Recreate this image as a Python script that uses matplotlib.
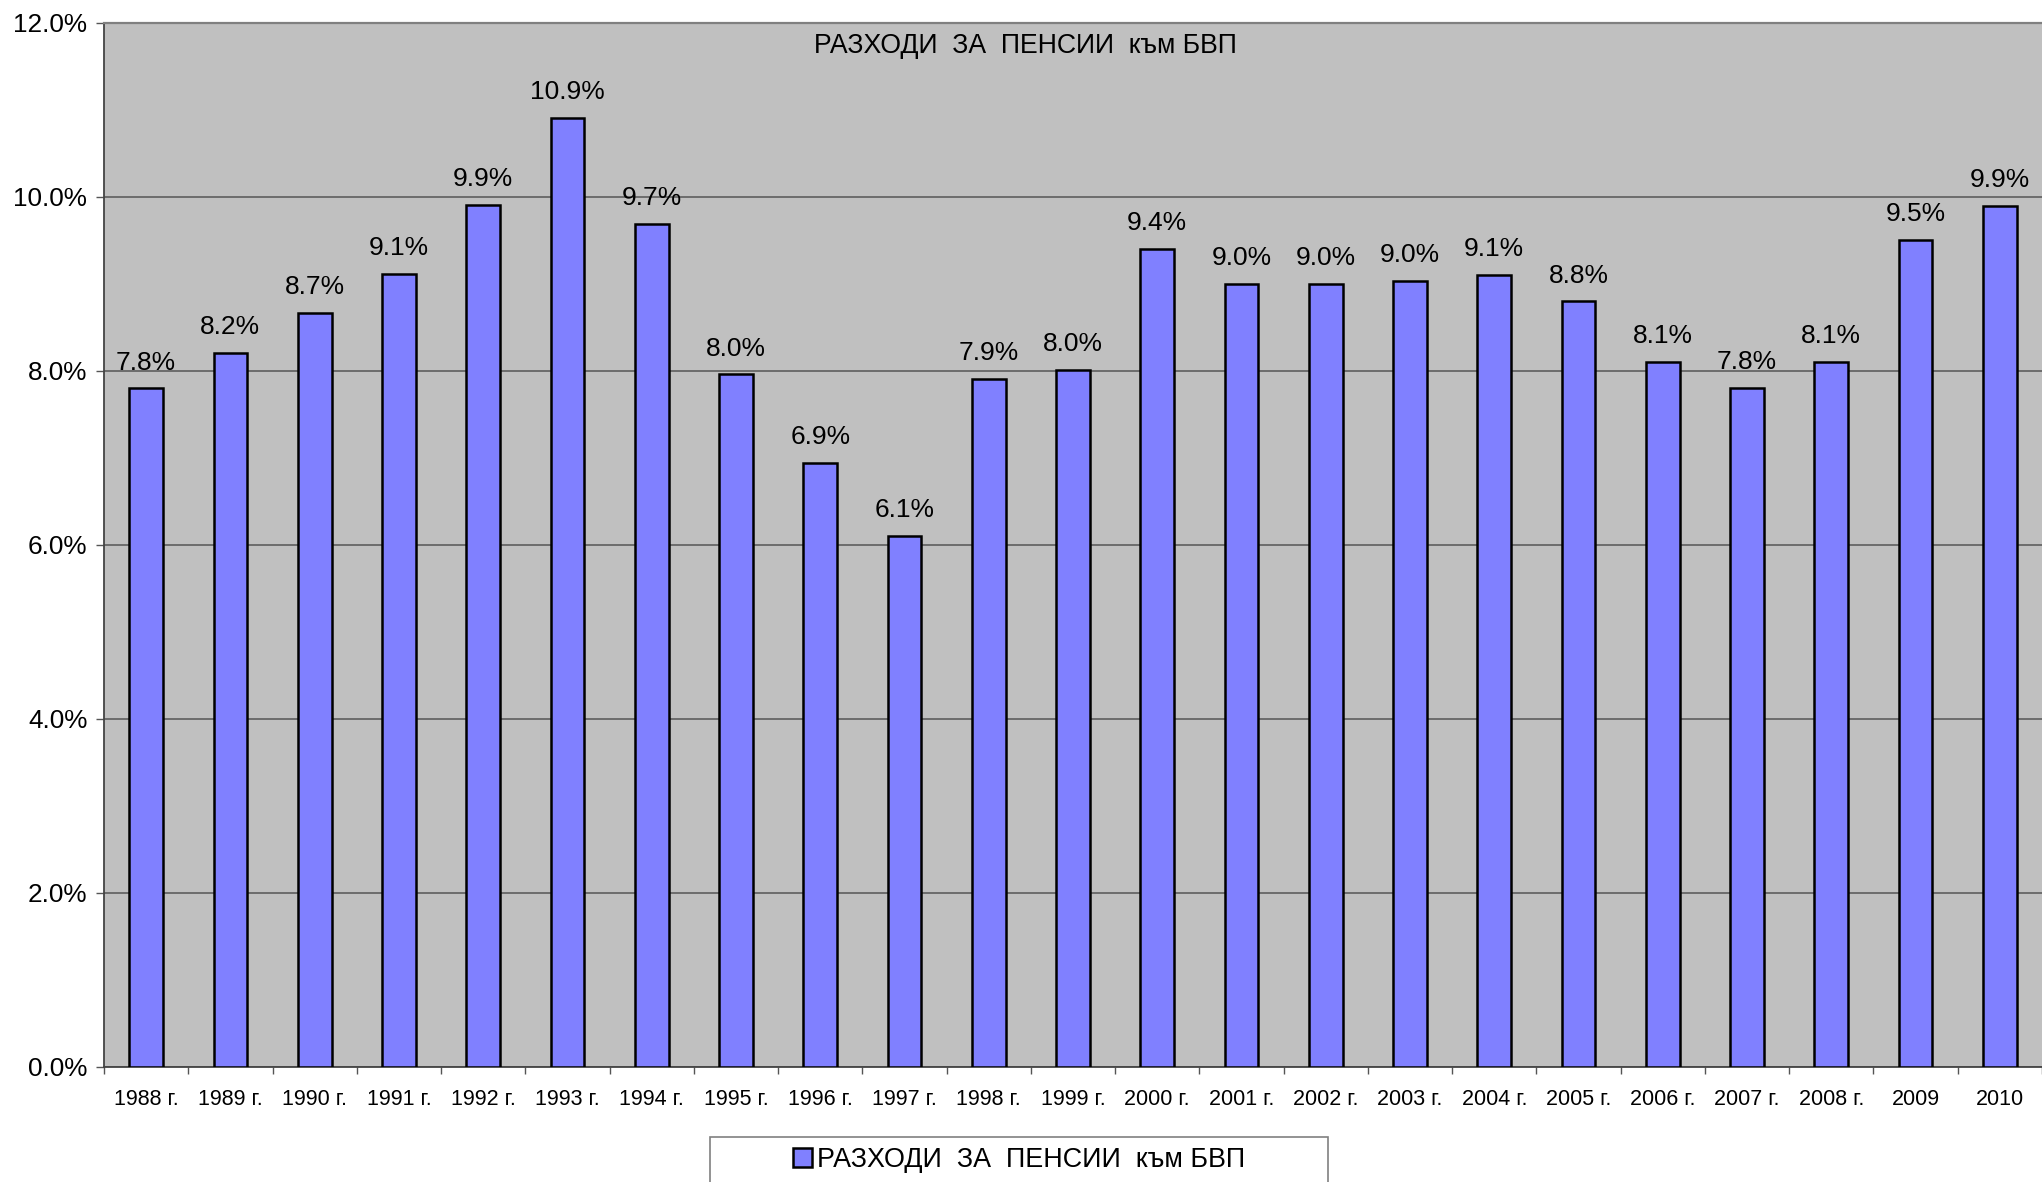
import matplotlib
matplotlib.use("Agg")
import matplotlib.pyplot as plt
from matplotlib.patches import Rectangle
import numpy as np

plt.rcParams['font.family'] = ['Liberation Sans', 'DejaVu Sans']

categories = ["1988 г.", "1989 г.", "1990 г.", "1991 г.", "1992 г.", "1993 г.", "1994 г.",
              "1995 г.", "1996 г.", "1997 г.", "1998 г.", "1999 г.", "2000 г.", "2001 г.",
              "2002 г.", "2003 г.", "2004 г.", "2005 г.", "2006 г.", "2007 г.", "2008 г.",
              "2009", "2010"]
values = [7.80, 8.21, 8.67, 9.12, 9.91, 10.91, 9.69,
          7.96, 6.94, 6.10, 7.91, 8.01, 9.40, 9.00,
          9.00, 9.04, 9.10, 8.80, 8.10, 7.81, 8.10,
          9.51, 9.90]
y_ticks = [0, 2, 4, 6, 8, 10, 12]
title = "РАЗХОДИ  ЗА  ПЕНСИИ  към БВП"

W, H = 2042, 1182
fig = plt.figure(figsize=(W / 100, H / 100), dpi=100)
ax = fig.add_axes([104 / W, 1 - 1067 / H, (W - 104) / W, (1067 - 23) / H])
ax.set_facecolor('#C0C0C0')

x = np.arange(len(categories))
ax.set_axisbelow(True)
ax.yaxis.grid(True, color='#555555', linewidth=1.1)
bars = ax.bar(x, values, width=0.4, color='#8080FF', edgecolor='black', linewidth=1.8,
              label=title, zorder=3)

for xi, v in zip(x, values):
    ax.annotate(f"{v:.1f}%", (xi, v), xytext=(0, 10), textcoords='offset points',
                ha='center', va='bottom', fontsize=19, color='black', zorder=4)

ax.set_xlim(-0.5, len(categories) - 0.5)
ax.set_ylim(0, 12)
ax.set_yticks(y_ticks)
ax.set_yticklabels([f"{t:.1f}%" for t in y_ticks], fontsize=18.8)
ax.tick_params(axis='y', length=6, width=1, color='#555555', pad=6)

ax.set_xticks(x)
ax.set_xticklabels(categories, fontsize=15.5)
ax.set_xticks(np.arange(len(categories) + 1) - 0.5, minor=True)
ax.tick_params(axis='x', which='major', length=0, pad=16)
ax.tick_params(axis='x', which='minor', length=5, width=1, color='#555555')

for s in ['left', 'bottom']:
    ax.spines[s].set_color('#444444')
    ax.spines[s].set_linewidth(1.3)
ax.spines['top'].set_color('#808080')
ax.spines['top'].set_linewidth(1.6)
ax.spines['right'].set_visible(False)

fig.text(1025 / W, 1 - 46 / H, title, ha='center', va='center', fontsize=19.2)

# legend frame and legend
fig.patches.append(Rectangle((710 / W, -0.01), (1328 - 710) / W, 0.01 + 1 - 1137 / H,
                             transform=fig.transFigure, facecolor='white',
                             edgecolor='#808080', linewidth=1.2))
fig.legend(handles=[bars], labels=[title], loc='center', bbox_to_anchor=(1019 / W, 1 - 1160 / H),
           frameon=False, fontsize=19.4, handlelength=0.7, handleheight=0.7, handletextpad=0.2)

fig.savefig("out.png", dpi=100)
